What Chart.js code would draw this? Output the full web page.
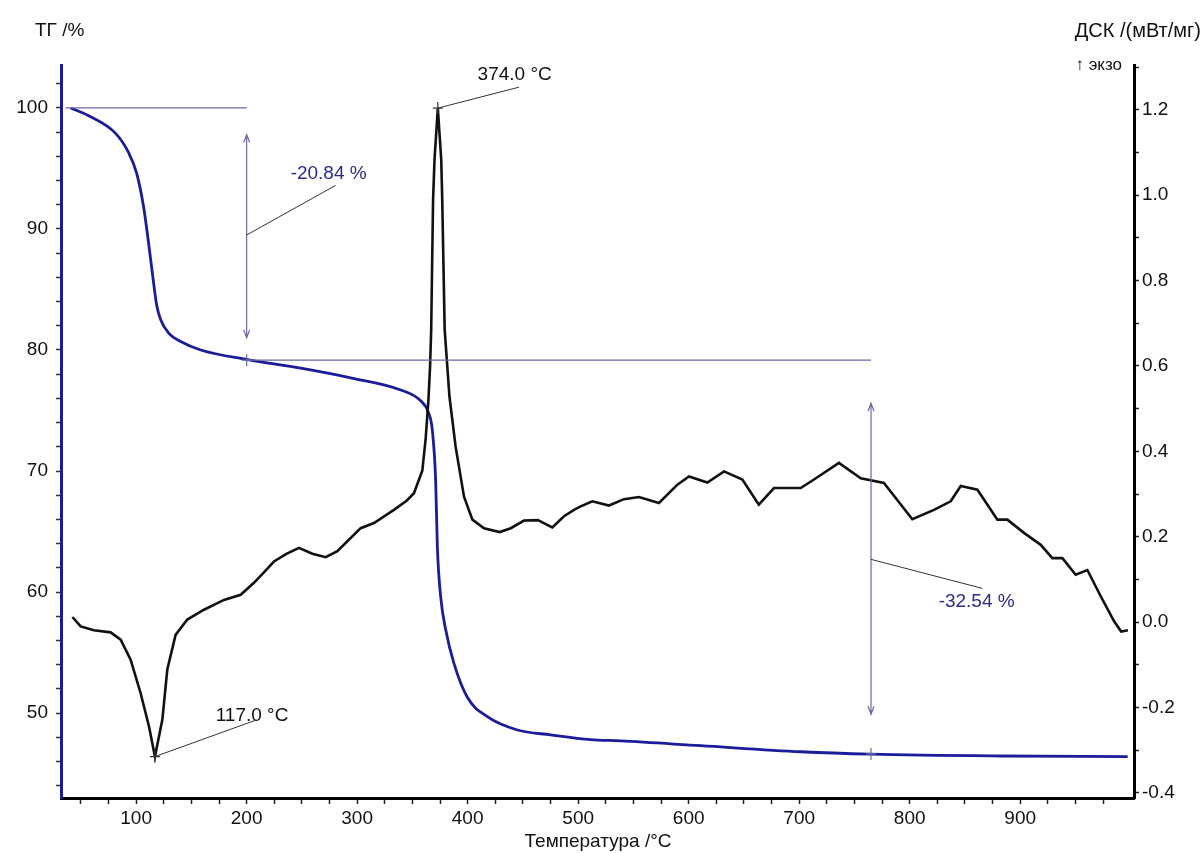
<!DOCTYPE html>
<html>
<head>
<meta charset="utf-8">
<title>ТГ / ДСК</title>
<script src="https://cdn.jsdelivr.net/npm/chart.js@4.4.0/dist/chart.umd.min.js"></script>
<style>
  html, body { margin: 0; padding: 0; background: #fff; }
  #wrap { width: 1204px; height: 853px; }
</style>
</head>
<body>
<div id="wrap"><canvas id="thermo" width="1204" height="853"></canvas></div>
<script>
/* ── Data ────────────────────────────────────────────────────────────────── */
const tgTemp = [40.7, 56.1, 81.4, 93.2, 100.5, 106.8, 111.3, 114.9, 118.6, 122.2,
  129.4, 140.3, 158.4, 200.9, 248.9, 294.1, 339.4, 357.5, 364.7, 368,
  371, 372.6, 375.6, 380.1, 387.6, 399.7, 417.8, 445, 475.1, 511.3,
  538.5, 610.9, 701.4, 764.7, 882.4, 997.3];
const tgValue = [100.0, 99.4, 97.9, 96.3, 94.6, 91.8, 88.8, 86.2, 83.7, 82.5,
  81.4, 80.7, 80.0, 79.2, 78.5, 77.7, 76.7, 75.8, 74.8, 73.4,
  69.3, 63.7, 59.6, 56.9, 54.1, 51.3, 49.7, 48.6, 48.2, 47.8,
  47.7, 47.3, 46.8, 46.6, 46.45, 46.4];

const dscTemp = [42.3, 49.8, 61.8, 76.9, 86, 95, 104, 111.6, 117, 123.7,
  128.2, 135.7, 146.3, 161.4, 179.5, 194.6, 206.6, 215, 224.7, 236,
  247.3, 259.5, 271.5, 282.1, 303.2, 315.2, 333.3, 345, 351.4, 359,
  362, 364.5, 366, 367, 368.7, 370, 373, 376.1, 377, 379.2,
  383.5, 389.1, 396.7, 404.3, 414.8, 429, 439, 451, 463.5, 476.6,
  487.2, 496.2, 502.3, 512.8, 527.9, 541.4, 555, 573.1, 589.8, 600.3,
  616.9, 632, 648.6, 663.5, 677.2, 701.4, 713.4, 736, 755.7, 776.7,
  802.4, 822, 837.1, 846.2, 861.3, 879.4, 888.4, 903.4, 918.6, 929.1,
  938.2, 950.2, 960.8, 973, 985, 991.4, 997.5];
const dscValue = [0.012, -0.010, -0.019, -0.024, -0.041, -0.088, -0.166, -0.244, -0.315, -0.229,
  -0.111, -0.030, 0.006, 0.029, 0.052, 0.064, 0.092, 0.115, 0.142, 0.160,
  0.174, 0.160, 0.152, 0.166, 0.220, 0.232, 0.263, 0.285, 0.302, 0.355,
  0.430, 0.520, 0.600, 0.685, 0.989, 1.083, 1.204, 1.083, 0.989, 0.685,
  0.529, 0.411, 0.294, 0.240, 0.220, 0.211, 0.220, 0.238, 0.239, 0.222,
  0.248, 0.263, 0.271, 0.283, 0.273, 0.288, 0.293, 0.279, 0.322, 0.341,
  0.327, 0.353, 0.334, 0.275, 0.314, 0.314, 0.334, 0.373, 0.337, 0.326,
  0.241, 0.263, 0.283, 0.319, 0.310, 0.240, 0.240, 0.209, 0.181, 0.150,
  0.150, 0.111, 0.122, 0.060, 0.002, -0.022, -0.019];

/* labelled ticks; minor ticks sit between them */
const xTickLabels   = [100, 200, 300, 400, 500, 600, 700, 800, 900];
const tgTickLabels  = [50, 60, 70, 80, 90, 100];
const dscTickLabels = [-0.4, -0.2, 0.0, 0.2, 0.4, 0.6, 0.8, 1.0, 1.2];

/* ── Look ────────────────────────────────────────────────────────────────── */
const COLORS = {
  tg     : '#1c1c9a',
  dsc    : '#111111',
  refLine: '#6a6aa6',
  leader : '#333333',
  noteTg : '#2a2a8c',
  text   : '#111111',
};
const FONT = 'Liberation Sans, Arial, sans-serif';

const minorTicks = (from, to, step) => {
  const out = [];
  for (let i = Math.round(from / step); i * step <= to + 1e-9; i++) out.push(+(i * step).toFixed(3));
  return out;
};

/* ── Annotations drawn on top (data units) ───────────────────────────────── */
const notes = {
  refLines: [
    { x1: 36, y1: 100, x2: 200, y2: 100 },
    { x1: 200, y1: 79.16, x2: 765, y2: 79.16 },
  ],
  arrows: [
    { x: 200, y1: 97.8, y2: 81.0 },
    { x: 765, y1: 75.6, y2: 49.9 },
  ],
  crossesTg : [[200, 79.16], [765, 46.62]],
  crossesDsc: [[117, -0.315], [373, 1.204]],
  leadersTg : [[200, 89.5, 280.5, 93.6], [765, 62.7, 865.8, 60.3]],
  leadersDsc: [[117, -0.315, 208, -0.23], [373, 1.204, 446.4, 1.253]],
  textsTg   : [['-20.84 %', 239.8, 94.6], ['-32.54 %', 826.2, 59.2]],
  textsDsc  : [['117.0 °C', 172, -0.22], ['374.0 °C', 409, 1.282]],
};

const notesPlugin = {
  id: 'thermoNotes',
  afterDatasetsDraw(chart) {
    const { ctx } = chart;
    const sx = chart.scales.x, tg = chart.scales.yTG, ds = chart.scales.yDSC;
    const X = v => sx.getPixelForValue(v);

    ctx.save();
    // reference lines
    ctx.strokeStyle = COLORS.refLine;
    ctx.lineWidth = 1.2;
    notes.refLines.forEach(l => {
      ctx.beginPath();
      ctx.moveTo(X(l.x1), tg.getPixelForValue(l.y1));
      ctx.lineTo(X(l.x2), tg.getPixelForValue(l.y2));
      ctx.stroke();
    });
    // double arrows
    notes.arrows.forEach(a => {
      const x = X(a.x), yt = tg.getPixelForValue(a.y1), yb = tg.getPixelForValue(a.y2);
      ctx.beginPath();
      ctx.moveTo(x, yt); ctx.lineTo(x, yb);
      ctx.moveTo(x - 3, yt + 8); ctx.lineTo(x, yt); ctx.lineTo(x + 3, yt + 8);
      ctx.moveTo(x - 3, yb - 8); ctx.lineTo(x, yb); ctx.lineTo(x + 3, yb - 8);
      ctx.stroke();
    });
    // little crosses at the measured points
    const cross = (x, y) => {
      ctx.beginPath();
      ctx.moveTo(x - 5, y); ctx.lineTo(x + 5, y);
      ctx.moveTo(x, y - 6); ctx.lineTo(x, y + 6);
      ctx.stroke();
    };
    notes.crossesTg.forEach(([t, v]) => cross(X(t), tg.getPixelForValue(v)));
    ctx.strokeStyle = COLORS.leader;
    notes.crossesDsc.forEach(([t, v]) => cross(X(t), ds.getPixelForValue(v)));

    // leader lines
    ctx.lineWidth = 1;
    ctx.strokeStyle = COLORS.leader;
    const leader = (scale, l) => {
      ctx.beginPath();
      ctx.moveTo(X(l[0]), scale.getPixelForValue(l[1]));
      ctx.lineTo(X(l[2]), scale.getPixelForValue(l[3]));
      ctx.stroke();
    };
    notes.leadersTg.forEach(l => leader(tg, l));
    notes.leadersDsc.forEach(l => leader(ds, l));

    // texts
    ctx.font = '19px ' + FONT;
    ctx.textBaseline = 'middle';
    ctx.textAlign = 'left';
    ctx.fillStyle = COLORS.noteTg;
    notes.textsTg.forEach(([s, t, v]) => ctx.fillText(s, X(t), tg.getPixelForValue(v)));
    ctx.fillStyle = COLORS.text;
    notes.textsDsc.forEach(([s, t, v]) => ctx.fillText(s, X(t), ds.getPixelForValue(v)));
    ctx.restore();
  },
  afterDraw(chart) {
    const { ctx } = chart;
    ctx.save();
    ctx.fillStyle = COLORS.text;
    ctx.textBaseline = 'middle';
    ctx.font = '19px ' + FONT;
    ctx.textAlign = 'left';
    ctx.fillText('ТГ /%', 35, 31);
    ctx.textAlign = 'right';
    ctx.font = '20px ' + FONT;
    ctx.fillText('ДСК /(мВт/мг)', 1201, 31);
    ctx.font = '17px ' + FONT;
    ctx.fillText('↑ экзо', 1122, 65);
    ctx.font = '19px ' + FONT;
    ctx.textAlign = 'center';
    ctx.fillText('Температура /°C', 598, 842);
    ctx.restore();
  },
};

/* ── Chart ───────────────────────────────────────────────────────────────── */
const tickFont = { family: FONT, size: 19 };

new Chart(document.getElementById('thermo'), {
  type: 'line',
  data: {
    datasets: [
      {
        label: 'ДСК',
        data: dscTemp.map((t, i) => ({ x: t, y: dscValue[i] })),
        yAxisID: 'yDSC',
        borderColor: COLORS.dsc,
        borderWidth: 2.6,
        pointRadius: 0,
        tension: 0,
        fill: false,
      },
      {
        label: 'ТГ',
        data: tgTemp.map((t, i) => ({ x: t, y: tgValue[i] })),
        yAxisID: 'yTG',
        borderColor: COLORS.tg,
        borderWidth: 2.8,
        pointRadius: 0,
        cubicInterpolationMode: 'monotone',
        fill: false,
      },
    ],
  },
  options: {
    responsive: false,
    animation: false,
    layout: { padding: { top: 65, left: 0, right: 0, bottom: 0 } },
    plugins: { legend: { display: false }, tooltip: { enabled: false } },
    scales: {
      x: {
        type: 'linear',
        min: 32,
        max: 1003,
        afterFit: s => { s.height = 55; },
        afterBuildTicks: s => { s.ticks = minorTicks(50, 975, 25).map(v => ({ value: v })); },
        ticks: {
          autoSkip: false, maxRotation: 0, padding: 3, color: COLORS.text, font: tickFont,
          callback: v => (xTickLabels.includes(v) ? String(v) : ''),
        },
        grid: { drawOnChartArea: false, tickLength: 6, tickColor: '#222', tickWidth: 1.5 },
        border: { color: '#000', width: 3 },
      },
      yTG: {
        type: 'linear',
        position: 'left',
        min: 42.98,
        max: 103.55,
        afterFit: s => { s.width = 61; },
        afterBuildTicks: s => { s.ticks = minorTicks(44, 102, 2).map(v => ({ value: v })); },
        ticks: {
          autoSkip: false, padding: 8, color: COLORS.text, font: tickFont,
          callback: v => (tgTickLabels.includes(v) ? String(v) : ''),
        },
        grid: { drawOnChartArea: false, tickLength: 5, tickColor: '#333', tickWidth: 1.5 },
        border: { color: COLORS.tg, width: 3 },
      },
      yDSC: {
        type: 'linear',
        position: 'right',
        min: -0.412,
        max: 1.305,
        afterFit: s => { s.width = 70; },
        afterBuildTicks: s => { s.ticks = minorTicks(-0.4, 1.3, 0.1).map(v => ({ value: v })); },
        ticks: {
          autoSkip: false, padding: 3, color: COLORS.text, font: tickFont,
          callback: v => {
            const hit = dscTickLabels.find(l => Math.abs(l - v) < 1e-6);
            return hit === undefined ? '' : hit.toFixed(1);
          },
        },
        grid: { drawOnChartArea: false, tickLength: 5, tickColor: '#222', tickWidth: 1.5 },
        border: { color: '#000', width: 3 },
      },
    },
  },
  plugins: [notesPlugin],
});
</script>
</body>
</html>
